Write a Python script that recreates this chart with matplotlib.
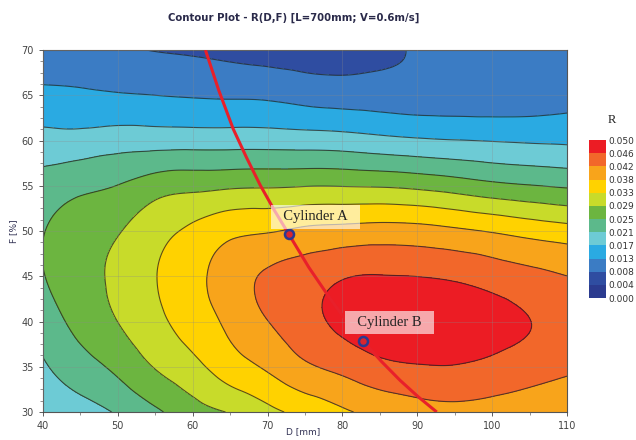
import numpy as np
import matplotlib
matplotlib.use("Agg")
import matplotlib.pyplot as plt
import matplotlib.tri as mtri
from matplotlib.colors import ListedColormap, BoundaryNorm
from matplotlib.ticker import MultipleLocator

# response surface: R at the grid nodes (rows = F, columns = D)
D_vals = [40, 45, 50, 55, 60, 65, 70, 75, 80, 85, 90, 95, 100, 105, 110]
F_vals = [30, 35, 40, 45, 50, 55, 60, 65, 70]
R_grid = [
    [0.0175, 0.0192, 0.0213, 0.0243, 0.0275, 0.0294, 0.0322, 0.0345, 0.0369, 0.0386, 0.0400, 0.0406, 0.0404, 0.0398, 0.0390],  # F=30
    [0.0203, 0.0233, 0.0260, 0.0294, 0.0322, 0.0355, 0.0381, 0.0410, 0.0428, 0.0447, 0.0455, 0.0456, 0.0446, 0.0435, 0.0425],  # F=35
    [0.0228, 0.0263, 0.0292, 0.0323, 0.0352, 0.0385, 0.0416, 0.0443, 0.0468, 0.0485, 0.0490, 0.0488, 0.0476, 0.0459, 0.0445],  # F=40
    [0.0248, 0.0277, 0.0301, 0.0332, 0.0362, 0.0396, 0.0422, 0.0437, 0.0455, 0.0460, 0.0458, 0.0452, 0.0440, 0.0428, 0.0417],  # F=45
    [0.0248, 0.0273, 0.0289, 0.0318, 0.0342, 0.0365, 0.0372, 0.0383, 0.0388, 0.0392, 0.0390, 0.0382, 0.0372, 0.0360, 0.0350],  # F=50
    [0.0225, 0.0240, 0.0251, 0.0272, 0.0280, 0.0285, 0.0287, 0.0290, 0.0290, 0.0288, 0.0282, 0.0272, 0.0260, 0.0252, 0.0245],  # F=55
    [0.0181, 0.0182, 0.0189, 0.0190, 0.0190, 0.0190, 0.0190, 0.0188, 0.0185, 0.0178, 0.0172, 0.0168, 0.0165, 0.0162, 0.0160],  # F=60
    [0.0135, 0.0132, 0.0128, 0.0125, 0.0122, 0.0120, 0.0118, 0.0110, 0.0105, 0.0103, 0.0100, 0.0100, 0.0100, 0.0103, 0.0110],  # F=65
    [0.0095, 0.0091, 0.0088, 0.0082, 0.0078, 0.0072, 0.0065, 0.0062, 0.0065, 0.0075, 0.0086, 0.0090, 0.0092, 0.0094, 0.0095],  # F=70
]

# red curve through the two cylinders
curve_D = [61.7, 63.5, 65.4, 67.2, 69.0, 70.9, 72.8, 75.5, 78.3, 80.5, 82.8, 85.2, 87.7, 90.1, 92.6]
curve_F = [70.0, 65.5, 61.3, 58.1, 55.1, 52.3, 49.7, 46.0, 42.6, 40.1, 37.8, 35.6, 33.5, 31.7, 30.0]

cyl_names = ["Cylinder A", "Cylinder B"]
cyl_D = [72.8, 82.8]
cyl_F = [49.7, 37.8]

cbar_labels = ["0.000", "0.004", "0.008", "0.013", "0.017", "0.021", "0.025",
               "0.029", "0.033", "0.038", "0.042", "0.046", "0.050"]
band_colors = ["#2B3B8F", "#2F4DA1", "#3B7CC4", "#2AAAE2", "#6DCBD5", "#5CB98B",
               "#6CB540", "#C8DB2A", "#FFD200", "#F8A41B", "#F2672A", "#EC1C24"]

levels = np.linspace(0, 0.05, len(cbar_labels))
cmap = ListedColormap(band_colors)
norm = BoundaryNorm(levels, cmap.N)

# regular grid split into triangles with the same diagonal in every cell
DD, FF = np.meshgrid(D_vals, F_vals)
nd, nf = len(D_vals), len(F_vals)
cells = []
for j in range(nf - 1):
    for i in range(nd - 1):
        a = j * nd + i
        cells.append([a, a + 1, a + nd + 1])
        cells.append([a, a + nd + 1, a + nd])
tri = mtri.Triangulation(DD.ravel(), FF.ravel(), triangles=cells)
z = np.array(R_grid).ravel()
interp = mtri.CubicTriInterpolator(tri, z, kind="min_E")
tri_f, z_f = mtri.UniformTriRefiner(tri).refine_field(z, triinterpolator=interp, subdiv=4)

fig = plt.figure(figsize=(6.36, 4.40), dpi=100)
ax = fig.add_axes([0.0676, 0.0636, 0.8239, 0.8227])

cf = ax.tricontourf(tri_f, z_f, levels=levels, cmap=cmap, norm=norm)
ax.tricontour(tri_f, z_f, levels=levels[1:-1], colors="#222222", linewidths=0.8, alpha=0.75)

ax.set_xlim(40, 110)
ax.set_ylim(30, 70)
ax.xaxis.set_major_locator(MultipleLocator(10))
ax.xaxis.set_minor_locator(MultipleLocator(5))
ax.yaxis.set_major_locator(MultipleLocator(5))
ax.yaxis.set_minor_locator(MultipleLocator(1.25))
ax.grid(True, which="major", color="#8a8a8a", lw=0.5, alpha=0.4)
ax.set_axisbelow(False)
ax.tick_params(labelsize=7, colors="#444444", length=3, width=0.6)
ax.tick_params(which="minor", length=2, width=0.5, colors="#666666")
for s in ax.spines.values():
    s.set_color("#555555")
    s.set_linewidth(0.8)

ax.plot(curve_D, curve_F, color="#E8202A", lw=2.2, zorder=5, solid_capstyle="butt")
ax.plot(cyl_D, cyl_F, "o", ms=6.5, mfc="#D9262E", mec="#2B3990", mew=1.8, zorder=6)

label_pos = [(76.4, 51.55), (86.3, 39.9)]
for name, (lx, ly) in zip(cyl_names, label_pos):
    ax.text(lx, ly, "  " + name + "  ", ha="center", va="center", fontsize=10.5,
            family="Liberation Serif", color="#222222", zorder=7,
            bbox=dict(boxstyle="square,pad=0.35", fc="white", ec="none", alpha=0.62))

fig.text(0.462, 0.959, "Contour Plot - R(D,F) [L=700mm; V=0.6m/s]", ha="center", va="center",
         fontsize=7.3, fontweight="bold", color="#2A2A4A")
fig.text(0.022, 0.475, "F [%]", rotation=90, ha="center", va="center", fontsize=6.5, color="#333355")
fig.text(0.477, 0.008, "D [mm]", ha="center", va="bottom", fontsize=6.5, color="#333355")

cax = fig.add_axes([0.926, 0.3227, 0.0267, 0.359])
cb = fig.colorbar(cf, cax=cax, ticks=levels)
cb.set_ticklabels(cbar_labels)
cb.outline.set_visible(False)
cax.tick_params(length=0, pad=1.5, labelsize=6.5, colors="#333333")
fig.text(0.962, 0.727, "R", ha="center", va="center", fontsize=9, family="Liberation Serif", color="#222222")

fig.savefig("out.png", dpi=100)
